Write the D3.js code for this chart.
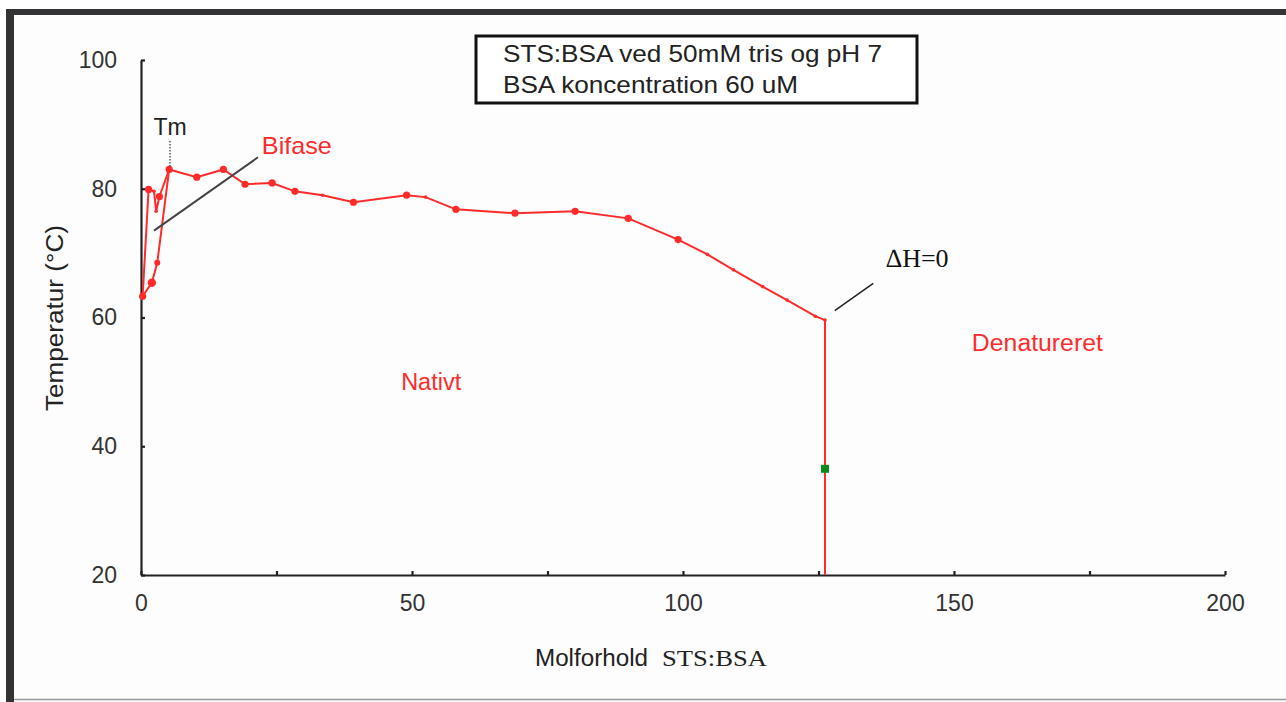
<!DOCTYPE html>
<html>
<head>
<meta charset="utf-8">
<script src="https://cdn.jsdelivr.net/npm/d3@7"></script>
<style>
  body { margin: 0; background: #fff; }
  svg { display: block; font-family: Arial, "Liberation Sans", sans-serif; }
</style>
</head>
<body>
<div id="chart-area"></div>
<script>
const WIDTH = 1286
const HEIGHT = 702

// main melting curve (molar ratio STS:BSA vs temperature)
const molRatio = [0.3, 1.4, 2.4, 2.8, 3.4, 5.2, 10.3, 15.2, 19.2, 24.2, 28.4, 33.5, 39.2, 49.0, 52.5, 58.1, 69.0, 80.1, 89.9, 99.1, 104.5, 109.3, 114.7, 119.2, 124.4, 126.2, 126.2]
const temperature = [63.3, 79.9, 79.6, 76.5, 78.8, 83.0, 81.8, 83.0, 80.7, 80.9, 79.6, 79.0, 77.9, 79.0, 78.7, 76.8, 76.2, 76.5, 75.4, 72.1, 69.8, 67.4, 64.8, 62.7, 60.2, 59.6, 20]
const markedRatio = [0.3, 1.4, 3.4, 5.2, 10.3, 15.2, 19.2, 24.2, 28.4, 39.2, 49.0, 58.1, 69.0, 80.1, 89.9, 99.1]

// lower branch leading up to Tm
const branchRatio = [0.3, 2.0, 3.0, 5.2]
const branchTemp = [63.3, 65.4, 68.5, 83.0]

// green point on the dH=0 line
const greenRatio = [126.2]
const greenTemp = [36.5]

const xTicks = [0, 25, 50, 75, 100, 125, 150, 175, 200]
const xLabels = [0, 50, 100, 150, 200]
const yTicks = [20, 40, 60, 80, 100]

const legendLines = ["STS:BSA ved 50mM tris og pH 7", "BSA koncentration 60 uM"]

const RED = "#ff2b2b"

const svg = d3.select("#chart-area").append("svg")
  .attr("width", WIDTH)
  .attr("height", HEIGHT)

// frame
svg.append("rect").attr("x", 6).attr("y", 9).attr("width", WIDTH - 6).attr("height", HEIGHT - 9).attr("fill", "#fdfdfd")
svg.append("rect").attr("x", 6).attr("y", 9).attr("width", WIDTH - 6).attr("height", 6).attr("fill", "#333336")
svg.append("rect").attr("x", 6).attr("y", 9).attr("width", 8).attr("height", HEIGHT - 9).attr("fill", "#333336")
svg.append("line").attr("x1", 14).attr("x2", WIDTH).attr("y1", 699.5).attr("y2", 699.5)
  .attr("stroke", "#999").attr("stroke-width", 1.5)

const x = d3.scaleLinear().domain([0, 200]).range([141, 1225])
const y = d3.scaleLinear().domain([20, 100]).range([575, 60])

// axes
const xAxisCall = d3.axisBottom(x)
  .tickValues(xTicks)
  .tickSizeInner(-4)
  .tickSizeOuter(0)
  .tickPadding(20)
  .tickFormat(d => xLabels.includes(d) ? d : "")

const xAxis = svg.append("g")
  .attr("transform", `translate(0, ${y(20)})`)
  .call(xAxisCall)

const yAxisCall = d3.axisLeft(y)
  .tickValues(yTicks)
  .tickSizeInner(-4)
  .tickSizeOuter(0)
  .tickPadding(24)

const yAxis = svg.append("g")
  .attr("transform", `translate(${x(0)}, 0)`)
  .call(yAxisCall)

for (const ax of [xAxis, yAxis]) {
  ax.select(".domain").attr("stroke", "#222").attr("stroke-width", 2.2)
  ax.selectAll(".tick line").attr("stroke", "#222").attr("stroke-width", 2.2)
  ax.selectAll(".tick text").attr("fill", "#333").attr("font-size", "23px")
}

// axis titles
svg.append("text")
  .attr("transform", `translate(63, ${318}) rotate(-90)`)
  .attr("text-anchor", "middle")
  .attr("font-size", "23px")
  .attr("fill", "#222")
  .attr("textLength", 186)
  .attr("lengthAdjust", "spacingAndGlyphs")
  .text("Temperatur (°C)")

const xTitle = svg.append("text")
  .attr("x", 535)
  .attr("y", 666)
  .attr("font-size", "23px")
  .attr("fill", "#222")
xTitle.append("tspan").attr("textLength", 113).attr("lengthAdjust", "spacingAndGlyphs").text("Molforhold")
xTitle.append("tspan").attr("dx", 14)
  .attr("font-family", "'Liberation Serif', 'DejaVu Serif', serif")
  .attr("textLength", 105).attr("lengthAdjust", "spacingAndGlyphs")
  .text("STS:BSA")

// legend box
svg.append("rect")
  .attr("x", 476).attr("y", 36).attr("width", 441).attr("height", 67)
  .attr("fill", "#fff").attr("stroke", "#111").attr("stroke-width", 3)
const legendLen = [379, 295]
legendLines.forEach((t, i) => {
  svg.append("text")
    .attr("x", 503).attr("y", 62 + i * 31)
    .attr("font-size", "24px").attr("fill", "#222")
    .attr("textLength", legendLen[i]).attr("lengthAdjust", "spacingAndGlyphs")
    .text(t)
})

// curves
const line = d3.line().x(d => x(d[0])).y(d => y(d[1]))
const mainData = d3.zip(molRatio, temperature)
const branchData = d3.zip(branchRatio, branchTemp)

svg.append("path").datum(branchData)
  .attr("d", line).attr("fill", "none").attr("stroke", RED).attr("stroke-width", 2)
svg.append("path").datum(mainData)
  .attr("d", line).attr("fill", "none").attr("stroke", RED).attr("stroke-width", 2)

svg.selectAll("circle.main").data(mainData.filter(d => d[1] > 20)).enter().append("circle")
  .attr("class", "main")
  .attr("cx", d => x(d[0]))
  .attr("cy", d => y(d[1]))
  .attr("r", d => markedRatio.includes(d[0]) ? 3.6 : 1.8)
  .attr("fill", RED)

svg.selectAll("circle.branch").data(branchData).enter().append("circle")
  .attr("class", "branch")
  .attr("cx", d => x(d[0]))
  .attr("cy", d => y(d[1]))
  .attr("r", (d, i) => i === 1 ? 4.2 : 3)
  .attr("fill", RED)

svg.selectAll("rect.green").data(d3.zip(greenRatio, greenTemp)).enter().append("rect")
  .attr("class", "green")
  .attr("x", d => x(d[0]) - 4)
  .attr("y", d => y(d[1]) - 4)
  .attr("width", 8).attr("height", 8)
  .attr("fill", "#0a8a1a")

// annotations
svg.append("text").attr("x", x(5.35)).attr("y", y(88.4))
  .attr("text-anchor", "middle").attr("font-size", "23px").attr("fill", "#222")
  .text("Tm")
svg.append("line")
  .attr("x1", x(5.35)).attr("x2", x(5.35)).attr("y1", y(87.4)).attr("y2", y(83.4))
  .attr("stroke", "#333").attr("stroke-width", 1.2).attr("stroke-dasharray", "1.5,1.5")

svg.append("text").attr("x", x(22.3)).attr("y", y(85.45))
  .attr("font-size", "24px").attr("fill", RED)
  .attr("textLength", 70).attr("lengthAdjust", "spacingAndGlyphs").text("Bifase")
svg.append("line")
  .attr("x1", x(21.6)).attr("y1", y(84.9)).attr("x2", x(2.4)).attr("y2", y(73.5))
  .attr("stroke", "#444").attr("stroke-width", 2)

svg.append("text").attr("x", x(48.0)).attr("y", y(48.8))
  .attr("font-size", "23px").attr("fill", RED)
  .attr("textLength", 60).attr("lengthAdjust", "spacingAndGlyphs").text("Nativt")
svg.append("text").attr("x", x(153.3)).attr("y", y(54.85))
  .attr("font-size", "23px").attr("fill", RED)
  .attr("textLength", 131).attr("lengthAdjust", "spacingAndGlyphs").text("Denatureret")

svg.append("text").attr("x", x(137.5)).attr("y", y(67.8))
  .attr("font-family", "'Liberation Serif', 'DejaVu Serif', serif")
  .attr("font-size", "26px").attr("fill", "#111").text("\u2206H=0")
svg.append("line")
  .attr("x1", x(128.0)).attr("y1", y(61.06)).attr("x2", x(135.1)).attr("y2", y(65.3))
  .attr("stroke", "#222").attr("stroke-width", 1.5)
</script>
</body>
</html>
